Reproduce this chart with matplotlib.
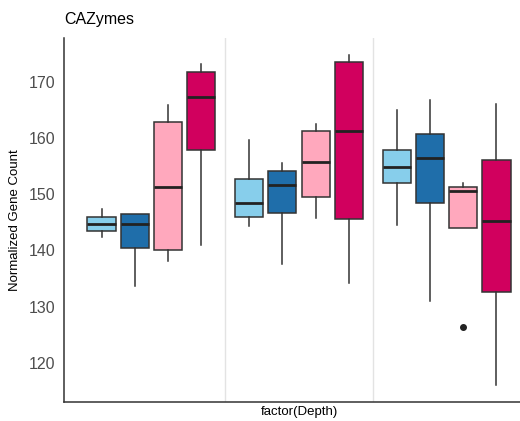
import matplotlib.pyplot as plt
import numpy as np

plt.rcParams['font.family'] = ['Liberation Sans', 'DejaVu Sans']

# one entry per box: 3 depth groups x 4 treatments, in drawing order
group = [1, 1, 1, 1, 2, 2, 2, 2, 3, 3, 3, 3]
treat = [0, 1, 2, 3, 0, 1, 2, 3, 0, 1, 2, 3]
whislo = [142.4, 133.6, 138.1, 140.9, 144.3, 137.6, 145.8, 134.1, 144.5, 131.0, 144.0, 116.0]
q1 = [143.4, 140.4, 140.1, 157.8, 145.9, 146.7, 149.5, 145.5, 151.9, 148.4, 144.0, 132.5]
med = [144.7, 144.6, 151.2, 167.3, 148.5, 151.7, 155.8, 161.3, 154.9, 156.5, 150.5, 145.3]
q3 = [146.0, 146.5, 162.8, 171.7, 152.7, 154.1, 161.3, 173.5, 157.8, 160.7, 151.3, 156.0]
whishi = [147.3, 146.5, 165.8, 173.1, 159.7, 155.5, 162.4, 174.8, 164.9, 166.7, 151.9, 166.0]
outliers = [[], [], [], [], [], [], [], [], [], [], [126.4], []]

colors = ['#87CEEB', '#1F6EAA', '#FFA8BD', '#D1005E']

fig = plt.figure(figsize=(5.2, 4.21), dpi=100)
ax = fig.add_axes([0.123, 0.045, 0.904, 0.865])

offs = (np.array(treat) - 1.5) * 0.224
pos = np.array(group) + offs

stats = []
for i in range(len(group)):
    stats.append(dict(whislo=whislo[i], q1=q1[i], med=med[i], q3=q3[i],
                      whishi=whishi[i], fliers=outliers[i]))

bp = ax.bxp(stats, positions=pos, widths=0.19, patch_artist=True,
            showcaps=False,
            boxprops=dict(edgecolor='#333333', linewidth=1.1),
            whiskerprops=dict(color='#333333', linewidth=1.1),
            medianprops=dict(color='#222222', linewidth=2),
            flierprops=dict(marker='o', markerfacecolor='#222222',
                            markeredgecolor='#222222', markersize=4))
for b, t in zip(bp['boxes'], treat):
    b.set_facecolor(colors[t])

for xv in [1.5, 2.5]:
    ax.axvline(xv, color='#e3e3e3', linewidth=1, zorder=0)

ax.set_xlim(0.41, 3.59)
ax.set_ylim(113, 177.8)
ax.set_xticks([])
ax.set_yticks([120, 130, 140, 150, 160, 170])
ax.tick_params(axis='y', length=0, pad=6, labelsize=11.5, labelcolor='#4d4d4d')
for s in ['top', 'right']:
    ax.spines[s].set_visible(False)
for s in ['left', 'bottom']:
    ax.spines[s].set_color('#333333')
    ax.spines[s].set_linewidth(1.1)

ax.set_ylabel('Normalized Gene Count', fontsize=9.5, labelpad=6)
ax.set_xlabel('factor(Depth)', fontsize=9.5, labelpad=3)
ax.set_title('CAZymes', fontsize=11.5, loc='left', pad=10)

plt.savefig('out.png', dpi=100)
